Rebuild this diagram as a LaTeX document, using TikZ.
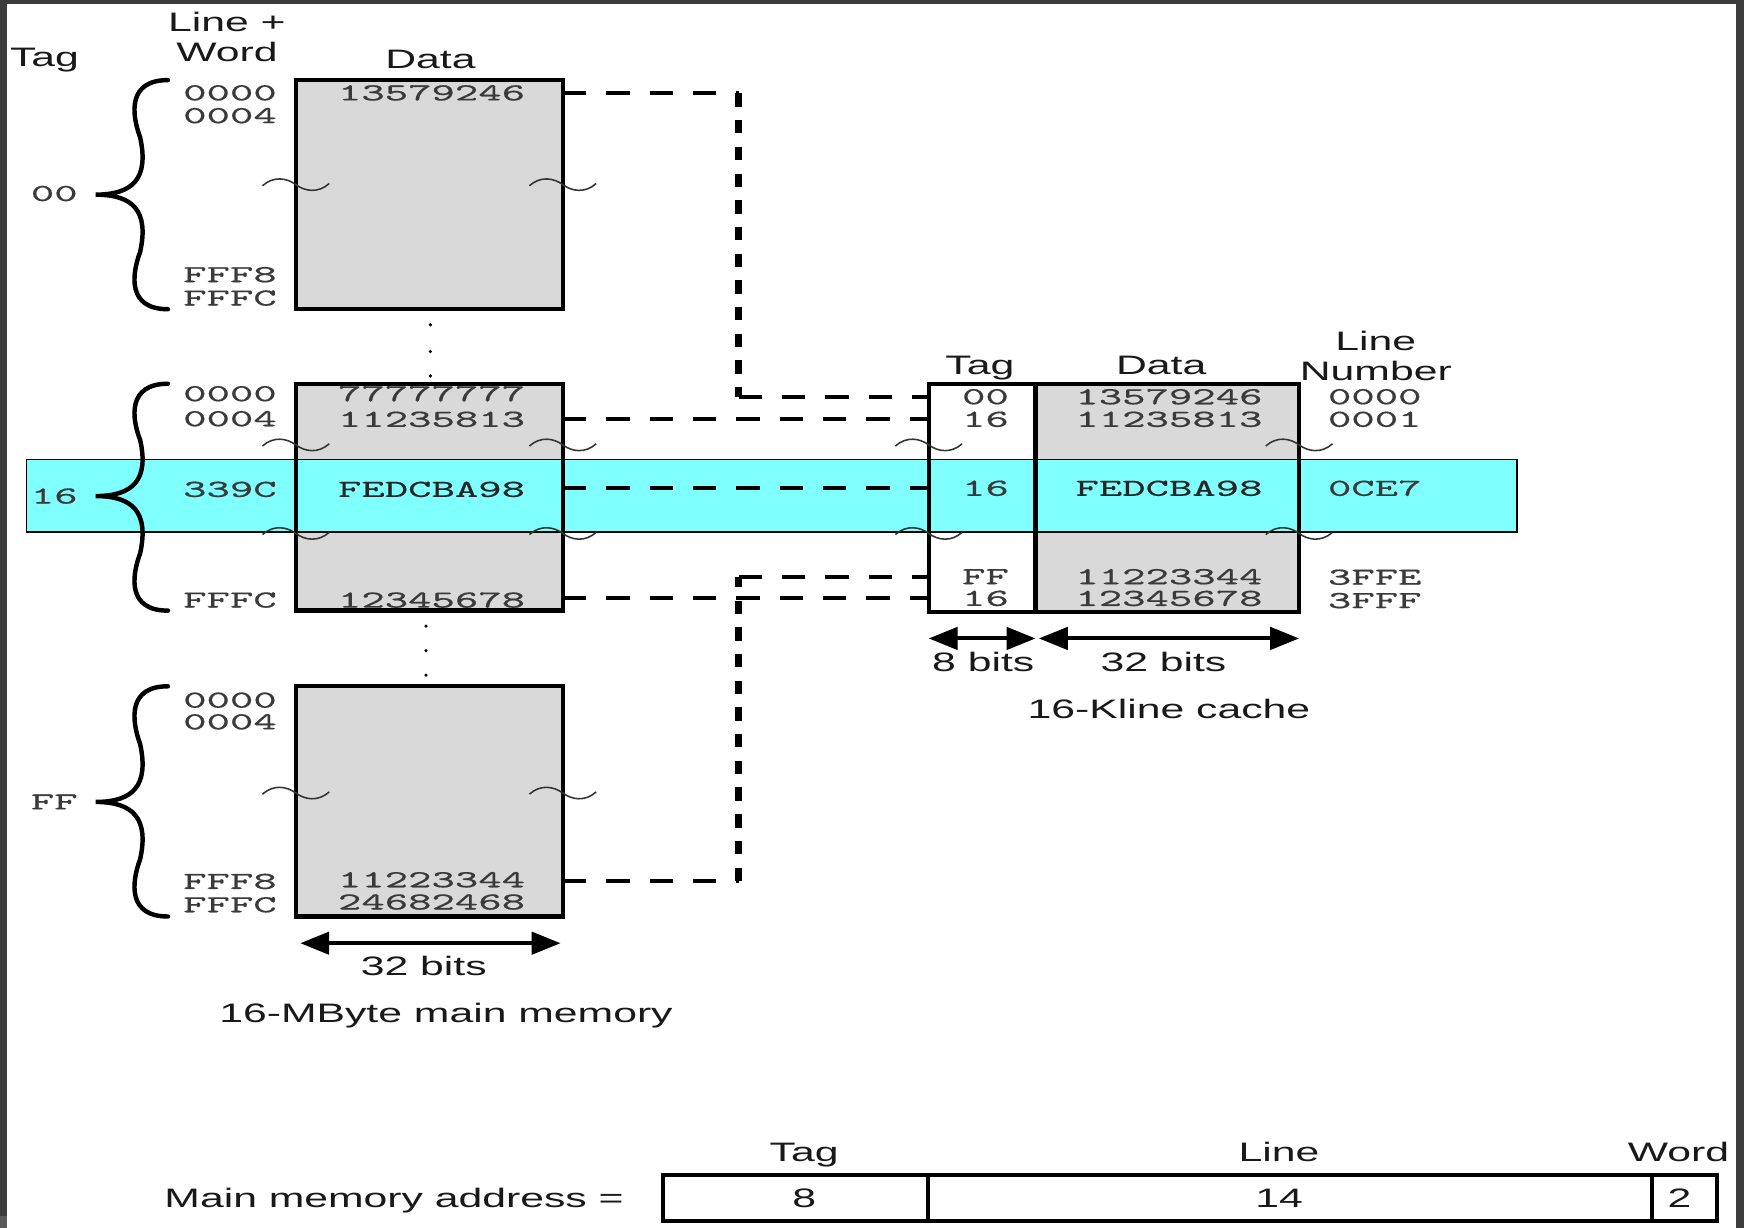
\documentclass[tikz,border=0pt]{standalone}
\usepackage{fontspec}
\usetikzlibrary{arrows.meta}
\setmainfont{Liberation Sans}
\newfontfamily\sansf{Liberation Sans}[FakeStretch=1.6]
\newfontfamily\monof{lmmono10-regular.otf}[FakeStretch=1.82,FakeBold=0.6]
\definecolor{bandcyan}{HTML}{80FFFF}
\definecolor{memgray}{HTML}{D9D9D9}
\definecolor{framegray}{HTML}{3C3C3C}
\definecolor{hexgray}{HTML}{3A3A3A}
\newcommand{\membrace}[3]{%
  \draw[bracestyle] (151,#1) .. controls (115,#1) and (118,{#1+30}) .. (126,{0.5*(#1+#3)})
    .. controls (134,{#3-15}) and (120,#3) .. (86,#3)
    .. controls (120,#3) and (134,{#3+15}) .. (126,{0.5*(#3+#2)})
    .. controls (118,{#2-30}) and (115,#2) .. (151,#2);}
\newcommand{\squig}[2]{%
  \draw[squigstyle] ({#1-30},{#2+1}) .. controls ({#1-20},{#2-8}) and ({#1-8},{#2-6}) .. (#1,#2)
    .. controls ({#1+8},{#2+6}) and ({#1+20},{#2+8}) .. ({#1+30},{#2-1});}
\begin{document}
\begin{tikzpicture}[x=1pt,y=-1pt,
  lbl/.style={font=\sansf\fontsize{24}{28}\selectfont, text=black!90, inner sep=0pt, anchor=base},
  hex/.style={font=\monof\fontsize{22}{26}\selectfont, text=hexgray, inner sep=0pt},
  fillbox/.style={rectangle, inner sep=0pt, outer sep=0pt, anchor=north west},
  outline/.style={line width=4pt},
  hdash/.style={line width=3.5pt, dash pattern=on 21pt off 18pt},
  vdash/.style={line width=5.5pt, dash pattern=on 12pt off 12pt},
  dimarrow/.style={line width=3.5pt, {Triangle[length=26pt,width=20pt]}-{Triangle[length=26pt,width=20pt]}},
  bracestyle/.style={line width=4pt, line cap=round},
  squigstyle/.style={line width=1.4pt, black!80},
  addrbox/.style={rectangle, draw, line width=3.5pt, inner sep=0pt, outer sep=0pt, anchor=north west, minimum height=41.3pt}
]
% frame and background
\path[use as bounding box] (0,0) rectangle (1568,1104);
\fill[framegray] (0,0) rectangle (1568,1104);
\fill[white] (6.5,3.6) rectangle (1561,1104);
\fill[black!65] (0,1093) rectangle (6.5,1104);

% fills
\node[fillbox, fill=memgray, minimum width=240pt, minimum height=206pt] (mb1) at (266,72) {};
\node[fillbox, fill=memgray, minimum width=240pt, minimum height=204pt] (mb2) at (266,345) {};
\node[fillbox, fill=memgray, minimum width=240pt, minimum height=207pt] (mb3) at (266,617) {};
\node[fillbox, fill=white, minimum width=96pt, minimum height=205pt] (ctag) at (835,345) {};
\node[fillbox, fill=memgray, minimum width=237pt, minimum height=205pt] (cdata) at (931,345) {};

% highlighted band
\node[fillbox, fill=bandcyan, draw, line width=1.3pt, minimum width=1340pt, minimum height=65.5pt] (band) at (24,413) {};

% outlines
\draw[outline] (mb1.north west) rectangle (mb1.south east);
\draw[outline] (mb2.north west) rectangle (mb2.south east);
\draw[outline] (mb3.north west) rectangle (mb3.south east);
\draw[outline] (ctag.north west) rectangle (cdata.south east);
\draw[outline] (ctag.north east) -- (ctag.south east);

% headers
\node[lbl] (hTag) at (40,60) {Tag};
\node[lbl] (hLine) at (204,28.5) {Line +};
\node[lbl] (hWord) at (204,55.5) {Word};
\node[lbl] (hData) at (387,61.5) {Data};
\node[lbl] (cTagH) at (881,337) {Tag};
\node[lbl] (cDataH) at (1044,337) {Data};
\node[lbl] (cLineH) at (1237,315) {Line};
\node[lbl] (cNumH) at (1237,342) {Number};

% main memory block 1
\node[hex, anchor=east] (a10) at (249,83.5) {0000};
\node[hex, anchor=east] (a11) at (249,104) {0004};
\node[hex, anchor=east] (a12) at (249,247) {FFF8};
\node[hex, anchor=east] (a13) at (249,268) {FFFC};
\node[hex] (m1d) at (388,83.5) {13579246};
\node[hex, anchor=east] (t00) at (70,174) {00};

% main memory block 2
\node[hex, anchor=east] (a20) at (249,354) {0000};
\node[hex, anchor=east] (a21) at (249,376.5) {0004};
\node[hex, anchor=east] (a22) at (249,440) {339C};
\node[hex, anchor=east] (a23) at (249,539.5) {FFFC};
\node[hex] (m2a) at (388,354) {77777777};
\node[hex] (m2b) at (388,377) {11235813};
\node[hex, text=black!85] (m2c) at (388,440) {FEDCBA98};
\node[hex] (m2d) at (388,539.5) {12345678};
\node[hex, anchor=east] (t16) at (70,446) {16};

% main memory block 3
\node[hex, anchor=east] (a30) at (249,629.5) {0000};
\node[hex, anchor=east] (a31) at (249,649) {0004};
\node[hex, anchor=east] (a32) at (249,792.5) {FFF8};
\node[hex, anchor=east] (a33) at (249,813.5) {FFFC};
\node[hex] (m3a) at (388,791) {11223344};
\node[hex] (m3b) at (388,811) {24682468};
\node[hex, anchor=east] (tFF) at (70,721) {FF};

% cache contents
\node[hex] (ct1) at (886,356.7) {00};
\node[hex] (ct2) at (886,377) {16};
\node[hex] (ct3) at (886,439) {16};
\node[hex] (ct4) at (886,518.5) {FF};
\node[hex] (ct5) at (886,538) {16};
\node[hex] (cd1) at (1051,356.7) {13579246};
\node[hex] (cd2) at (1051,377) {11235813};
\node[hex, text=black!85] (cd3) at (1051,439) {FEDCBA98};
\node[hex] (cd4) at (1051,518.5) {11223344};
\node[hex] (cd5) at (1051,538) {12345678};
\node[hex] (cl1) at (1236,356.7) {0000};
\node[hex] (cl2) at (1236,377) {0001};
\node[hex] (cl3) at (1236,439) {0CE7};
\node[hex] (cl4) at (1236,519) {3FFE};
\node[hex] (cl5) at (1236,540) {3FFF};

% braces
\membrace{72}{278}{175}
\membrace{345}{549}{446}
\membrace{617}{824}{721}

% squiggles
\squig{266}{166}\squig{506}{166}
\squig{266}{400}\squig{506}{400}
\squig{266}{479.6}\squig{506}{479.6}
\squig{266}{713}\squig{506}{713}
\squig{835}{400}\squig{1168}{400}
\squig{835}{479.6}\squig{1168}{479.6}

% continuation dots
\foreach \yy in {292,316,338} {\fill (387,\yy) circle[radius=1.6pt];}
\foreach \yy in {563,585,607} {\fill (383,\yy) circle[radius=1.6pt];}

% dashed mapping lines
\coordinate (j1) at (664,84);
\coordinate (j4) at (664,792);
\draw[hdash] (mb1.east |- j1) -- (j1);
\draw[vdash] (j1) -- (j1 |- ct1);
\draw[hdash] (j1 |- ct1) -- (ctag.west |- ct1);
\draw[hdash] (mb2.east |- ct2) -- (ctag.west |- ct2);
\draw[hdash] (mb2.east |- ct3) -- (ctag.west |- ct3);
\draw[hdash] (mb2.east |- ct5) -- (ctag.west |- ct5);
\draw[hdash] (mb3.east |- j4) -- (j4);
\draw[vdash] (j4) -- (j4 |- ct4);
\draw[hdash] (j4 |- ct4) -- (ctag.west |- ct4);

% width arrows
\coordinate (arY) at (0,574);
\draw[dimarrow] (ctag.west |- arY) -- (ctag.east |- arY);
\draw[dimarrow] ([xshift=3pt]cdata.west |- arY) -- (cdata.east |- arY);
\node[lbl] (b8) at (884,604) {8 bits};
\node[lbl] (b32c) at (1046,604) {32 bits};
\node[lbl] (ccap) at (1051,646) {16-Kline cache};
\coordinate (mmL) at (270,848);
\coordinate (mmR) at (504,848);
\draw[dimarrow] (mmL) -- (mmR);
\node[lbl] (b32m) at (381,877) {32 bits};
\node[lbl] (mcap) at (401,919) {16-MByte main memory};

% main memory address format
\node[lbl, anchor=base east] (addrlbl) at (561,1085.3) {Main memory address =};
\node[addrbox, minimum width=237.6pt] (fTag) at (596.4,1056.2) {};
\node[addrbox, minimum width=651.4pt] (fLine) at (834,1056.2) {};
\node[addrbox, minimum width=58.6pt] (fWord) at (1485.4,1056.2) {};
\node[lbl] (vTag) at (723,1085.3) {8};
\node[lbl] (vLine) at (1150,1085.3) {14};
\node[lbl] (vWord) at (1510,1085.3) {2};
\node[lbl] (fTagH) at (723,1044.2) {Tag};
\node[lbl] (fLineH) at (1150,1044.2) {Line};
\node[lbl] (fWordH) at (1509,1044.2) {Word};
\end{tikzpicture}
\end{document}
